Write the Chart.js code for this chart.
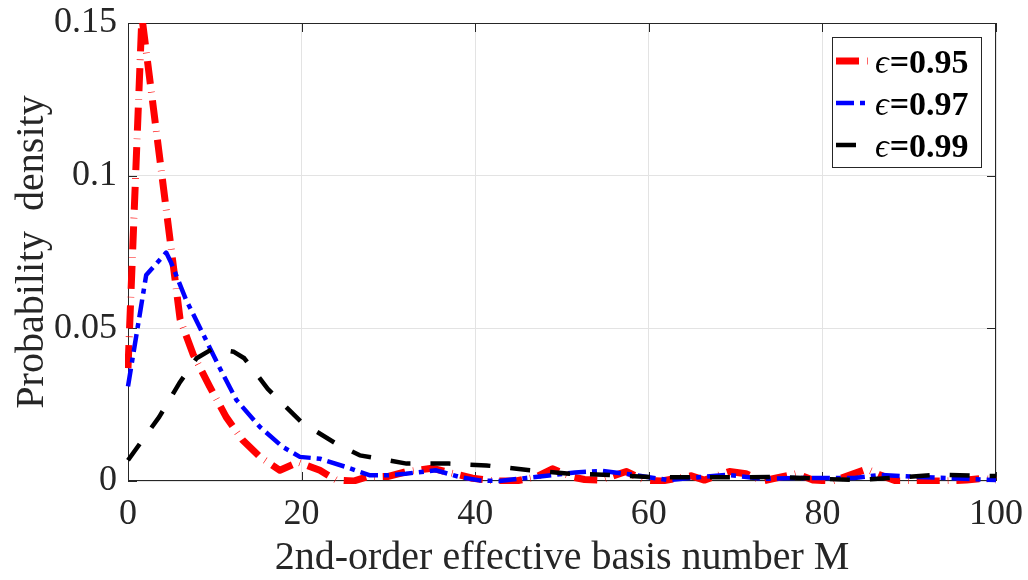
<!DOCTYPE html>
<html>
<head>
<meta charset="utf-8">
<script src="https://cdn.jsdelivr.net/npm/chart.js@4.4.1/dist/chart.umd.min.js"></script>
<style>
  html, body { margin: 0; padding: 0; background: #fff; }
  #wrap { width: 1028px; height: 580px; }
</style>
</head>
<body>
<div id="wrap"><canvas id="pdfChart" width="1028" height="580"></canvas></div>
<script>
// Threshold values shown in the legend
const epsValues = ['0.95', '0.97', '0.99'];

// Density of M for eps = 0.95
const m95 = [0, 1.6, 6.0, 7.5, 9.4, 11.3, 13.2, 15.2, 17.5, 19.6, 22.1, 24.0, 26.0, 27.5, 30.0, 32.0, 35.0, 37.4, 39.7, 42.4, 44.7, 47.0, 48.9, 51.2, 52.6, 54.4, 57.4, 59.5, 61.5, 64.9, 66.4, 69.3, 71.2, 73.1, 77.0, 78.9, 81.2, 85.1, 86.6, 88.5, 91.2, 93.9, 96.6, 98.5, 100];
const p95 = [0.037, 0.152, 0.053, 0.0415, 0.031, 0.021, 0.0134, 0.0079, 0.0035, 0.0062, 0.0035, 0.0003, 0, 0.0013, 0.0015, 0.003, 0.0042, 0.0025, 0.0009, 0, 0, 0.0013, 0.004, 0.0013, 0.0005, 0.0003, 0.0031, 0.0003, 0, 0.0017, 0.0003, 0.0031, 0.0024, 0, 0.0024, 0.0003, 0, 0.0039, 0.002, 0, 0, 0, 0.0003, 0.0009, 0.0003];

// Density of M for eps = 0.97
const m97 = [0, 2.1, 4.4, 5.0, 6.7, 8.6, 10.5, 12.5, 15.2, 17.8, 19.8, 22.1, 25.1, 27.8, 30.0, 32.0, 35.5, 38.2, 40.5, 42.8, 45.9, 48.9, 51.5, 54.7, 58.3, 62.2, 66.0, 69.1, 73.3, 77.6, 83.7, 86.8, 91.0, 95.0, 100];
const p97 = [0.031, 0.0675, 0.0748, 0.0713, 0.0593, 0.0484, 0.0374, 0.0265, 0.0177, 0.0112, 0.0079, 0.0073, 0.0046, 0.0019, 0.0019, 0.0024, 0.0035, 0.0013, 0.0002, 0, 0.001, 0.0019, 0.0028, 0.0033, 0.002, 0.0003, 0.0013, 0.002, 0.0007, 0.001, 0.001, 0.002, 0.0013, 0.0009, 0.0003];

// Density of M for eps = 0.99
const m99 = [0, 3.6, 5.9, 7.9, 9.8, 12.2, 13.4, 16.1, 20.0, 24.0, 26.7, 32.1, 37.0, 41.3, 46.3, 50.9, 55.5, 60.0, 65.0, 70.0, 75.0, 80.0, 84.0, 89.0, 93.5, 98.0, 100];
const p99 = [0.0068, 0.021, 0.032, 0.0402, 0.0434, 0.0423, 0.0402, 0.0302, 0.0192, 0.0122, 0.0084, 0.0057, 0.0057, 0.0051, 0.0035, 0.0024, 0.002, 0.0013, 0.0012, 0.0012, 0.0013, 0.0007, 0.0003, 0.0012, 0.0021, 0.0017, 0.0016];

const xTicks = [0, 20, 40, 60, 80, 100];
const yTicks = [0, 0.05, 0.1, 0.15];

const serif = '"Liberation Serif", "Times New Roman", "DejaVu Serif", serif';
const inkColor = '#262626';

const toPoints = (xs, ys) => xs.map((m, i) => ({ x: m, y: ys[i] }));

// Box around the plot area with inward tick marks on all four sides
const axesBox = {
    id: 'axesBox',
    beforeDatasetsDraw(chart) {
        const { ctx, chartArea: a, scales: { x, y } } = chart;
        const tl = 9;
        ctx.save();
        ctx.strokeStyle = inkColor;
        ctx.lineWidth = 1;
        ctx.strokeRect(a.left + 0.5, a.top + 0.5, a.right - a.left - 1, a.bottom - a.top - 1);
        ctx.beginPath();
        xTicks.forEach(v => {
            const px = Math.round(x.getPixelForValue(v)) + 0.5;
            ctx.moveTo(px, a.bottom); ctx.lineTo(px, a.bottom - tl);
            ctx.moveTo(px, a.top); ctx.lineTo(px, a.top + tl);
        });
        yTicks.forEach(v => {
            const py = Math.round(y.getPixelForValue(v)) + 0.5;
            ctx.moveTo(a.left, py); ctx.lineTo(a.left + tl, py);
            ctx.moveTo(a.right, py); ctx.lineTo(a.right - tl, py);
        });
        ctx.stroke();
        ctx.restore();
    }
};

// Legend box in the upper right corner of the plot
const insetLegend = {
    id: 'insetLegend',
    afterDraw(chart) {
        const { ctx } = chart;
        const bx = 832, by = 37, bw = 149, bh = 130;
        ctx.save();
        ctx.fillStyle = '#fff';
        ctx.fillRect(bx, by, bw, bh);
        ctx.strokeStyle = inkColor;
        ctx.lineWidth = 1;
        ctx.strokeRect(bx + 0.5, by + 0.5, bw, bh);
        chart.data.datasets.forEach((ds, i) => {
            const cy = by + 24 + i * 42;
            ctx.beginPath();
            ctx.setLineDash(ds.borderDash);
            ctx.lineWidth = ds.borderWidth;
            ctx.strokeStyle = ds.borderColor;
            ctx.moveTo(bx + 4, cy);
            ctx.lineTo(bx + 38, cy);
            ctx.stroke();
            ctx.setLineDash([]);

            const sym = ds.label.charAt(0);
            const rest = ds.label.slice(1);
            let tx = bx + 43;
            ctx.fillStyle = '#000';
            ctx.textBaseline = 'alphabetic';
            ctx.font = 'italic 34px ' + serif;
            ctx.fillText(sym, tx, cy + 12);
            tx += ctx.measureText(sym).width + 1;
            ctx.font = 'bold 34px ' + serif;
            ctx.fillText(rest, tx, cy + 12);
        });
        ctx.restore();
    }
};

const lineClip = { left: 3, right: 3, top: 0, bottom: 3 };

const datasets = [
    {
        label: 'ϵ=' + epsValues[0],
        data: toPoints(m95, p95),
        borderColor: '#ff0000',
        borderWidth: 7,
        borderDash: [23, 8, 0.6, 8],
        order: 3
    },
    {
        label: 'ϵ=' + epsValues[1],
        data: toPoints(m97, p97),
        borderColor: '#0000ff',
        borderWidth: 4.5,
        borderDash: [18, 6, 5, 6],
        order: 2
    },
    {
        label: 'ϵ=' + epsValues[2],
        data: toPoints(m99, p99),
        borderColor: '#000000',
        borderWidth: 4.5,
        borderDash: [20, 20],
        order: 1
    }
].map(ds => Object.assign(ds, {
    fill: false,
    tension: 0,
    pointRadius: 0,
    borderJoinStyle: 'round',
    clip: lineClip
}));

// Keep the plot area fixed: no extra room reserved for overhanging labels
const noOverhang = s => {
    s.paddingTop = 0;
    s.paddingBottom = 0;
    s.paddingLeft = 0;
    s.paddingRight = 0;
};

new Chart(document.getElementById('pdfChart').getContext('2d'), {
    type: 'line',
    data: { datasets },
    options: {
        responsive: false,
        animation: false,
        devicePixelRatio: 1,
        layout: { padding: { top: 23, right: 32, bottom: 0, left: 0 } },
        plugins: {
            legend: { display: false },
            tooltip: { enabled: false }
        },
        scales: {
            x: {
                type: 'linear',
                min: 0,
                max: 100,
                afterBuildTicks: s => { s.ticks = xTicks.map(v => ({ value: v })); },
                afterFit: s => { s.height = 99; noOverhang(s); },
                ticks: {
                    color: inkColor,
                    font: { family: serif, size: 36 },
                    padding: 12,
                    maxRotation: 0
                },
                grid: { color: '#e3e3e3', drawTicks: false },
                border: { display: false },
                title: {
                    display: true,
                    text: '2nd-order effective basis number M',
                    color: inkColor,
                    font: { family: serif, size: 40, lineHeight: 1 },
                    padding: { top: 0, bottom: 2 }
                }
            },
            y: {
                type: 'linear',
                min: 0,
                max: 0.15,
                afterBuildTicks: s => { s.ticks = yTicks.map(v => ({ value: v })); },
                afterFit: s => { s.width = 128; noOverhang(s); },
                ticks: {
                    color: inkColor,
                    font: { family: serif, size: 36 },
                    padding: 11,
                    callback: v => String(+v.toFixed(2))
                },
                grid: { color: '#e3e3e3', drawTicks: false },
                border: { display: false },
                title: {
                    display: true,
                    text: 'Probability  density',
                    color: inkColor,
                    font: { family: serif, size: 40, lineHeight: 1 },
                    padding: { top: 12, bottom: 0 }
                }
            }
        }
    },
    plugins: [axesBox, insetLegend]
});
</script>
</body>
</html>
